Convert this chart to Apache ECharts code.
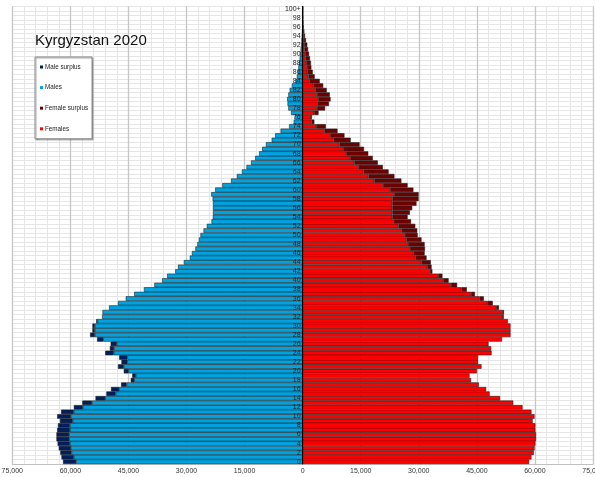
<!DOCTYPE html>
<html>
<head>
<meta charset="utf-8">
<script src="https://cdn.jsdelivr.net/npm/echarts@6/dist/echarts.min.js"></script>
<style>
html,body{margin:0;padding:0;background:#fff;}
#chart{width:595px;height:477px;}
</style>
</head>
<body>
<div id="chart"></div>
<script>
// Age categories (0 .. 99, then 100+)
const ageLabels = [];
for (let a = 0; a < 100; a++) ageLabels.push(String(a));
ageLabels.push('100+');

// Population by single year of age (index = age)
const males = [
  61900,62300,62600,63000,63300,63600,63600,63400,63200,62700,
  63400,62400,59100,56900,53500,50700,49500,46900,44400,44000,
  46200,47700,46800,47400,51000,49800,49600,53100,54900,54300,
  54300,53300,51800,51700,50000,47700,45700,43500,41000,38300,
  36300,35000,32900,32200,30700,29150,28600,27700,27200,26800,
  26400,25600,24750,23550,23200,23170,23170,23170,23250,23600,
  22600,20750,18500,17000,15700,14500,13350,12270,11250,10450,
  9500,8000,7100,5700,3500,2300,1900,3000,3700,3900,
  4000,3700,3350,2750,1800,1500,1200,1100,950,780,
  650,520,400,300,220,130,90,50,30,20,30
];
const females = [
  58500,59100,59700,59900,60100,60300,60300,60100,60100,59400,
  59900,59100,56800,54400,51000,48300,47400,45500,43500,43100,
  45000,46200,45300,45300,48800,48700,48000,51500,53700,53700,
  53700,53000,51850,52000,50700,49100,46800,44500,42400,39900,
  37700,36100,33500,33300,33100,32000,31500,31600,31500,30700,
  29700,29600,29100,28000,27100,27700,28300,29400,29950,29950,
  28600,27100,25500,23700,22200,20700,19400,18100,16950,15850,
  14700,12400,10800,9000,6000,3000,2400,4100,5800,6800,
  7200,7000,6200,5300,4400,3100,2600,2250,2150,1900,
  1650,1400,1200,870,600,430,270,170,100,60,80
];

const seriesNames = ['Male surplus','Males','Female surplus','Females'];
const xTicks = {min:-75000, max:75000, step:15000};

// derived stacks
const base = males.map((m,i)=>Math.min(m,females[i]));
const maleSur = males.map((m,i)=>m>females[i]? -(m-females[i]) : '-');
const femSur = females.map((f,i)=>f>males[i]? (f-males[i]) : '-');

const FONT = '"Liberation Sans", Arial, sans-serif';
const border = {borderColor:'#1a1a1a', borderWidth:0.55};
const GRID_LEFT = 12.3, GRID_RIGHT = 2, W = 595;
const zeroOffset = -((W - GRID_LEFT - GRID_RIGHT) / 2);

const chart = echarts.init(document.getElementById('chart'), null, {renderer:'canvas'});
chart.setOption({
  animation:false,
  backgroundColor:'#fff',
  textStyle:{fontFamily:FONT},
  title:{
    text:'Kyrgyzstan 2020', left:35, top:33, padding:0,
    textStyle:{fontSize:15, fontWeight:'normal', color:'#111', fontFamily:FONT}
  },
  legend:{
    data:seriesNames, orient:'vertical', left:35, top:57,
    itemWidth:3, itemHeight:3, itemGap:14.6, icon:'rect',
    padding:[7,4,7,5], backgroundColor:'#fff',
    borderColor:'#8a8a8a', borderWidth:1,
    shadowColor:'rgba(0,0,0,0.35)', shadowOffsetX:1, shadowOffsetY:1, shadowBlur:1,
    itemStyle:{borderWidth:0},
    textStyle:{fontSize:6.3, color:'#222', fontFamily:FONT, padding:[0,0,0,-3]}
  },
  grid:{left:GRID_LEFT, right:GRID_RIGHT, top:6.3, bottom:13, containLabel:false, outerBoundsMode:'none'},
  xAxis:{
    type:'value', min:xTicks.min, max:xTicks.max, interval:xTicks.step,
    axisLine:{show:true, lineStyle:{color:'#c0c0c0'}},
    axisTick:{show:false},
    minorTick:{show:false, splitNumber:5},
    splitLine:{show:true, lineStyle:{color:'#c6c6c6', width:1.3}},
    minorSplitLine:{show:true, lineStyle:{color:'#e6e6e6', width:1}},
    axisLabel:{
      fontSize:7, color:'#333', margin:4, fontFamily:FONT,
      formatter:v=>Math.abs(v).toLocaleString('en-US')
    }
  },
  yAxis:[
    {
      type:'category', data:ageLabels, position:'left',
      axisLine:{show:false}, axisTick:{show:false}, axisLabel:{show:false},
      splitLine:{show:true, interval:0, lineStyle:{color:'#e6e6e6', width:1}},
      z:0
    },
    {
      type:'category', data:ageLabels, position:'left', offset:zeroOffset,
      axisLine:{show:true, onZero:false, lineStyle:{color:'#000', width:1}},
      axisTick:{show:false},
      axisLabel:{interval:1, fontSize:7, color:'#1e1e1e', margin:2, fontFamily:FONT},
      splitLine:{show:false},
      zlevel:1, z:50
    }
  ],
  series:[
    {name:'Males', type:'bar', stack:'L', yAxisIndex:0, data:base.map(v=>-v), z:2,
     barCategoryGap:'0%', barGap:'-100%', itemStyle:Object.assign({color:'#00a3e0'},border)},
    {name:'Male surplus', type:'bar', stack:'L', yAxisIndex:0, data:maleSur, z:2,
     barCategoryGap:'0%', barGap:'-100%', itemStyle:Object.assign({color:'#001f5c'},border)},
    {name:'Females', type:'bar', stack:'R', yAxisIndex:0, data:base, z:2,
     barCategoryGap:'0%', barGap:'-100%', itemStyle:Object.assign({color:'#ff0000'},border)},
    {name:'Female surplus', type:'bar', stack:'R', yAxisIndex:0, data:femSur, z:2,
     barCategoryGap:'0%', barGap:'-100%', itemStyle:Object.assign({color:'#700000'},border)}
  ]
});
</script>
</body>
</html>
